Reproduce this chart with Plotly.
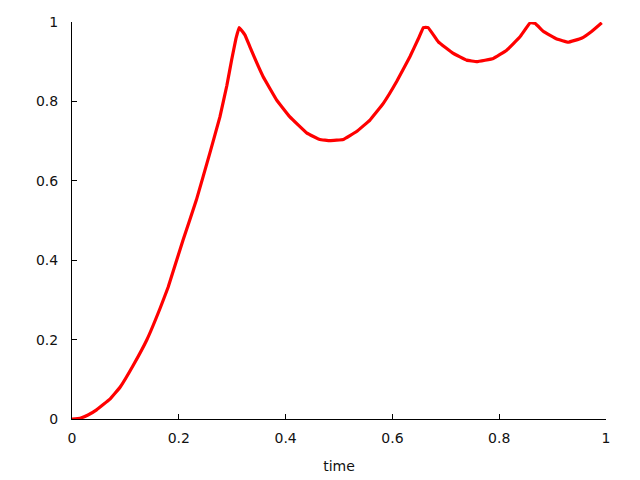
import plotly.graph_objects as go

time = [0.0, 0.015, 0.03, 0.046, 0.071, 0.09, 0.115, 0.14, 0.165, 0.18, 0.208, 0.233, 0.258, 0.277,
        0.29, 0.299, 0.307, 0.313, 0.324, 0.333, 0.349, 0.358, 0.383, 0.408, 0.44, 0.464, 0.483,
        0.508, 0.533, 0.558, 0.583, 0.608, 0.633, 0.649, 0.658, 0.667, 0.686, 0.714, 0.739, 0.758,
        0.789, 0.814, 0.839, 0.858, 0.867, 0.883, 0.908, 0.929, 0.954, 0.973, 0.992]
value = [0.0, 0.002, 0.01, 0.023, 0.05, 0.08, 0.136, 0.199, 0.279, 0.332, 0.451, 0.552, 0.669, 0.761,
         0.84, 0.905, 0.958, 0.986, 0.967, 0.938, 0.888, 0.862, 0.804, 0.761, 0.72, 0.704, 0.701,
         0.704, 0.724, 0.753, 0.795, 0.85, 0.913, 0.959, 0.986, 0.986, 0.95, 0.921, 0.904, 0.9,
         0.908, 0.929, 0.963, 0.998, 0.997, 0.976, 0.957, 0.949, 0.959, 0.976, 0.998]
x_ticks = [0, 0.2, 0.4, 0.6, 0.8, 1]
x_tick_labels = ["0", "0.2", "0.4", "0.6", "0.8", "1"]
y_ticks = [0, 0.2, 0.4, 0.6, 0.8, 1]
y_tick_labels = ["0", "0.2", "0.4", "0.6", "0.8", "1"]

fig = go.Figure()
fig.add_trace(go.Scatter(x=time, y=value, mode="lines",
                         line=dict(color="#ff0000", width=3.2, shape="spline", smoothing=0.2),
                         showlegend=False))

fig.update_layout(
    width=632, height=472,
    margin=dict(l=64, r=34, t=14, b=61, autoexpand=False),
    paper_bgcolor="white", plot_bgcolor="white",
    font=dict(family="DejaVu Sans", size=14, color="#111111"),
)
fig.update_xaxes(range=[0, 1], tickvals=x_ticks, ticktext=x_tick_labels,
                 ticks="inside", ticklen=5, tickcolor="black",
                 ticklabelstandoff=6,
                 showline=True, linecolor="black", linewidth=1, mirror=False,
                 showgrid=False, zeroline=False,
                 title=dict(text="time", standoff=16, font=dict(size=14)))
fig.update_yaxes(range=[0, 1], tickvals=y_ticks, ticktext=y_tick_labels,
                 ticks="inside", ticklen=5, tickcolor="black",
                 ticklabelstandoff=10,
                 showline=True, linecolor="black", linewidth=1, mirror=False,
                 showgrid=False, zeroline=False)

fig.write_html("out.html")
